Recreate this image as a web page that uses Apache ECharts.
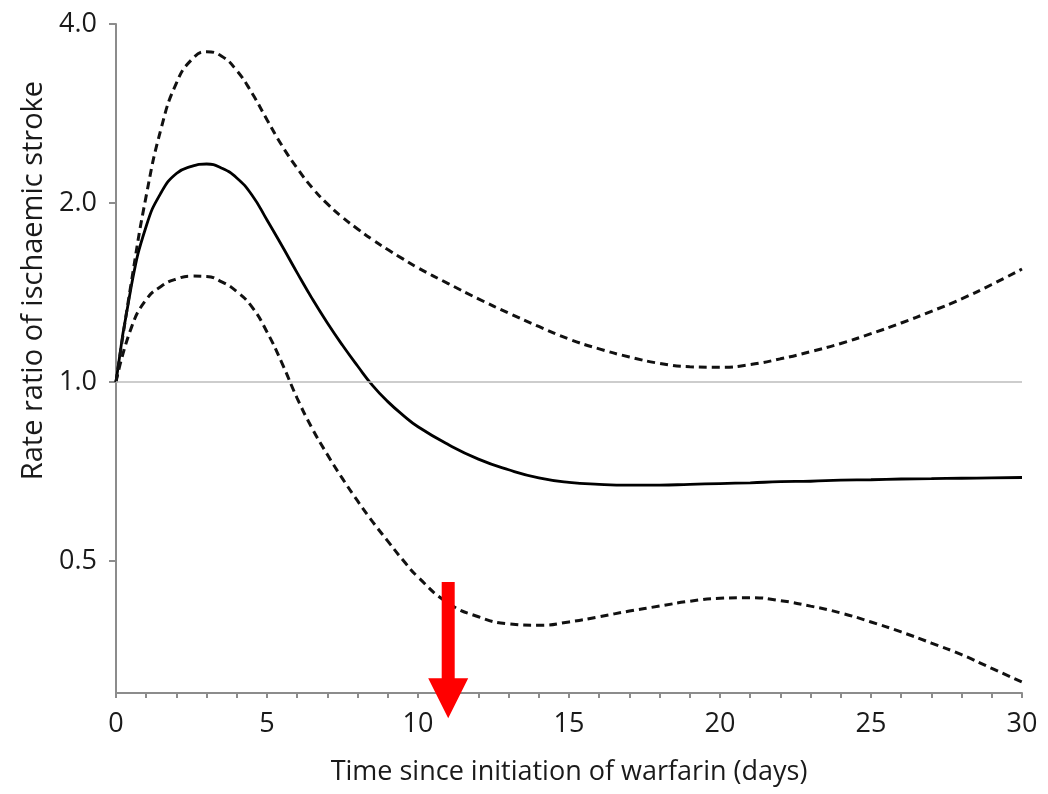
<!DOCTYPE html>
<html>
<head>
<meta charset="utf-8">
<script src="https://cdn.jsdelivr.net/npm/echarts@6/dist/echarts.min.js"></script>
<style>
  html, body { margin: 0; padding: 0; background: #fff; }
  #chart { width: 1048px; height: 794px; }
</style>
</head>
<body>
<div id="chart"></div>
<script>
// Days since initiation of warfarin
const days = [0, 0.5, 1, 1.5, 2, 2.5, 3, 3.5, 4, 4.5, 5, 5.5, 6, 6.5, 7, 7.5, 8, 8.5, 9, 9.5, 10,
  11, 12, 13, 14, 15, 16, 17, 18, 19, 20, 21, 22, 23, 24, 25, 26, 27, 28, 29, 30];
// Rate ratio (point estimate)
const rateRatio = [1.0, 1.444, 1.828, 2.085, 2.242, 2.305, 2.326, 2.289, 2.204, 2.063, 1.873, 1.693, 1.526, 1.380, 1.257, 1.153, 1.064, 0.986, 0.927, 0.880, 0.841,
  0.785, 0.742, 0.712, 0.690, 0.678, 0.673, 0.671, 0.671, 0.673, 0.675, 0.677, 0.680, 0.681, 0.684, 0.685, 0.687, 0.688, 0.689, 0.690, 0.691];
// Upper 95% confidence limit
const upperCI = [1.0, 1.464, 2.056, 2.676, 3.182, 3.482, 3.593, 3.531, 3.340, 3.063, 2.761, 2.496, 2.289, 2.121, 1.993, 1.892, 1.809, 1.735, 1.670, 1.611, 1.556,
  1.464, 1.380, 1.306, 1.240, 1.181, 1.137, 1.102, 1.075, 1.061, 1.059, 1.070, 1.094, 1.125, 1.161, 1.206, 1.257, 1.315, 1.380, 1.459, 1.549];
// Lower 95% confidence limit
const lowerCI = [1.0, 1.231, 1.376, 1.449, 1.490, 1.507, 1.505, 1.474, 1.419, 1.338, 1.214, 1.075, 0.939, 0.835, 0.755, 0.688, 0.631, 0.582, 0.540, 0.502, 0.470,
  0.425, 0.403, 0.392, 0.390, 0.395, 0.403, 0.412, 0.420, 0.428, 0.433, 0.434, 0.429, 0.420, 0.409, 0.395, 0.380, 0.364, 0.348, 0.330, 0.313];
// Y axis tick values (log scale)
const yTicks = [0.5, 1, 2, 4];
// Reference line (no effect)
const refLine = 1;
// Red arrow annotation: day, top value, tip value
const arrowDay = 11;
const arrowTop = 0.461;
const arrowTip = 0.272;

const zip = (xs, ys) => xs.map((x, i) => [x, ys[i]]);

const FONT = 'Open Sans';
const axisGrey = '#8c8c8c';
const textColor = '#1a1a1a';

const chart = echarts.init(document.getElementById('chart'), null, { renderer: 'canvas' });

const dashed = { color: '#111', width: 3, type: [8, 5] };

chart.setOption({
  animation: false,
  backgroundColor: '#ffffff',
  grid: { left: 116, right: 26, top: 24, bottom: 101, containLabel: false },
  xAxis: {
    type: 'value',
    min: 0,
    max: 30,
    interval: 5,
    name: 'Time since initiation of warfarin (days)',
    nameLocation: 'middle',
    nameGap: 66,
    nameTextStyle: { fontFamily: FONT, fontSize: 27, color: textColor },
    axisLine: { show: true, lineStyle: { color: axisGrey, width: 2 } },
    axisTick: { show: true, length: 5, lineStyle: { color: axisGrey, width: 2 } },
    minorTick: { show: true, splitNumber: 5, length: 5, lineStyle: { color: axisGrey, width: 2 } },
    axisLabel: { margin: 18, fontFamily: FONT, fontSize: 27, color: textColor },
    splitLine: { show: false }
  },
  yAxis: {
    type: 'log',
    logBase: 2,
    min: 0.3,
    max: 4,
    name: 'Rate ratio of ischaemic stroke',
    nameLocation: 'middle',
    nameGap: 62,
    nameTextStyle: { fontFamily: FONT, fontSize: 29, color: textColor, padding: [0, 0, 0, 156] },
    axisLine: { show: true, lineStyle: { color: axisGrey, width: 2 } },
    axisTick: { show: true, length: 7, customValues: yTicks, lineStyle: { color: axisGrey, width: 2 } },
    axisLabel: {
      customValues: yTicks,
      margin: 19,
      fontFamily: FONT, fontSize: 27, color: textColor,
      formatter: v => Number(v).toFixed(1)
    },
    splitLine: { show: false }
  },
  series: [
    {
      name: 'reference',
      type: 'line',
      data: [],
      z: 1,
      markLine: {
        silent: true,
        symbol: 'none',
        label: { show: false },
        lineStyle: { color: '#bdbdbd', width: 1.5, type: 'solid' },
        data: [{ yAxis: refLine }]
      }
    },
    {
      name: 'Rate ratio',
      type: 'line',
      data: zip(days, rateRatio),
      smooth: 0.5,
      showSymbol: false,
      z: 3,
      lineStyle: { color: '#000', width: 2.8 }
    },
    {
      name: 'Upper 95% CI',
      type: 'line',
      data: zip(days, upperCI),
      smooth: 0.5,
      showSymbol: false,
      z: 3,
      lineStyle: dashed
    },
    {
      name: 'Lower 95% CI',
      type: 'line',
      data: zip(days, lowerCI),
      smooth: 0.5,
      showSymbol: false,
      z: 3,
      lineStyle: dashed
    },
    {
      name: 'arrow',
      type: 'custom',
      coordinateSystem: 'cartesian2d',
      clip: false,
      z: 10,
      silent: true,
      encode: { x: 0, y: [1, 2] },
      data: [[arrowDay, arrowTop, arrowTip]],
      renderItem: function (params, api) {
        const top = api.coord([api.value(0), api.value(1)]);
        const tip = api.coord([api.value(0), api.value(2)]);
        const x = tip[0];
        const sw = 6.5, hw = 20, hl = 40;
        return {
          type: 'polygon',
          shape: {
            points: [
              [x - sw, top[1]], [x + sw, top[1]], [x + sw, tip[1] - hl],
              [x + hw, tip[1] - hl], [x, tip[1]], [x - hw, tip[1] - hl], [x - sw, tip[1] - hl]
            ]
          },
          style: { fill: '#ff0000' }
        };
      }
    }
  ]
});
</script>
</body>
</html>
